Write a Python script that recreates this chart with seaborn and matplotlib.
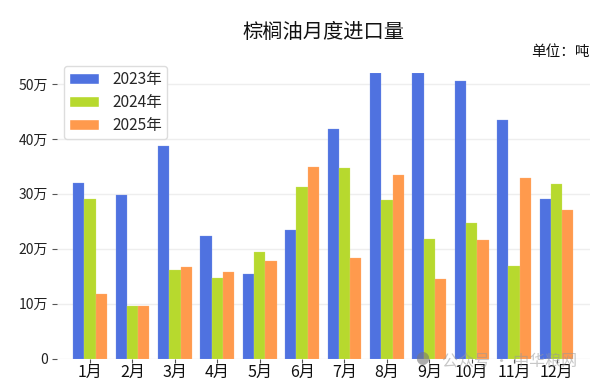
import pandas as pd
import matplotlib.pyplot as plt
import seaborn as sns

months = ['1月', '2月', '3月', '4月', '5月', '6月', '7月', '8月', '9月', '10月', '11月', '12月']
v2023 = [32.0, 29.8, 38.7, 22.4, 15.4, 23.4, 41.8, 52.0, 52.0, 50.6, 43.4, 29.0]
v2024 = [29.1, 9.6, 16.2, 14.7, 19.4, 31.3, 34.7, 28.9, 21.7, 24.7, 16.9, 31.8]
v2025 = [11.7, 9.5, 16.7, 15.7, 17.8, 34.8, 18.3, 33.4, 14.5, 21.6, 32.8, 27.1]
yticks = [0, 10, 20, 30, 40, 50]
ylabels = ['0', '10万', '20万', '30万', '40万', '50万']

# Table longue pour seaborn
df = pd.DataFrame({
    'month': months * 3,
    'year': ['2023年'] * 12 + ['2024年'] * 12 + ['2025年'] * 12,
    'value': v2023 + v2024 + v2025,
})

sns.set_style('white')
plt.rcParams['font.family'] = ['Noto Sans CJK SC', 'DejaVu Sans']

fig = plt.figure(figsize=(6.13, 3.87), dpi=100)
ax = fig.add_axes([57 / 613, 1 - 358.6 / 387, 533 / 613, 285.6 / 387])

palette = ['#4f72e0', '#b7d92e', '#ff9a4d']
sns.barplot(
    data=df, x='month', y='value', hue='year', palette=palette,
    saturation=1, width=0.8, gap=0, ax=ax, zorder=2
)

# Bord clair autour des barres
for container, color in zip(ax.containers, ['#7f98e8', '#cfe570', '#ffb57d']):
    for bar in container:
        bar.set_edgecolor(color)
        bar.set_linewidth(0.2)

ax.set_xlim(-0.78, 11.79)
ax.set_ylim(0, 52)
ax.set_yticks(yticks, ylabels)
ax.set_xlabel('')
ax.set_ylabel('')
ax.grid(axis='y', color='#eeeeee', linewidth=1)
ax.set_axisbelow(True)
sns.despine(ax=ax, left=True, bottom=True, top=True, right=True)
ax.tick_params(axis='y', left=True, length=3.5, width=0.8, color='#555555',
               labelsize=10, pad=3, labelcolor='#222222')
ax.tick_params(axis='x', bottom=True, length=3, width=0.8, color='#555555',
               labelsize=11.5, pad=1, labelcolor='#111111')

ax.legend(
    loc='upper left', bbox_to_anchor=(7 / 533, 1.025), fontsize=11.2, frameon=True,
    edgecolor='#dddddd', framealpha=1, borderaxespad=0, handlelength=1.9,
    handleheight=0.7, labelspacing=0.36, handletextpad=0.85, borderpad=0.35
)

fig.text(323 / 613, 1 - 33 / 387, '棕榈油月度进口量', fontsize=14.6, ha='center',
         va='center', color='#111111')
fig.text(590 / 613, 1 - 52 / 387, '单位：吨', fontsize=10.5, ha='right',
         va='center', color='#111111')

# Filigrane
fig.text(422 / 613, 1 - 360 / 387, '●', fontsize=10, ha='center', va='center',
         color='#777777', alpha=0.6, zorder=5)
fig.text(442 / 613, 1 - 362 / 387, '公众号 · 中华粮网', fontsize=11.5, ha='left',
         va='center', color='#999999', alpha=0.55, zorder=5)

plt.savefig('out.png', dpi=100)
